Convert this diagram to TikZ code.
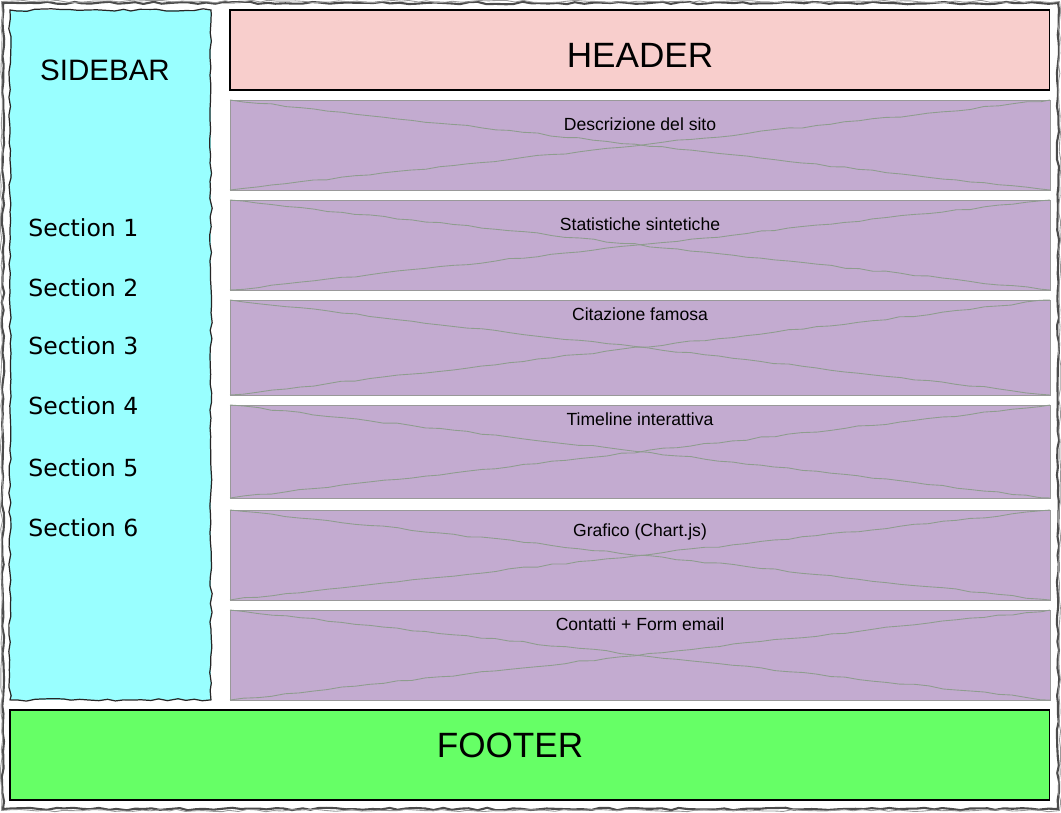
\documentclass[tikz,border=0pt]{standalone}
\usepackage{fontspec}
\setmainfont{Liberation Sans}
\newfontfamily\sectfont{DejaVu Sans}
\usetikzlibrary{positioning,decorations.pathmorphing}

\definecolor{sidefill}{HTML}{99FFFF}
\definecolor{headfill}{HTML}{F8CECC}
\definecolor{panelfill}{HTML}{C3ABD0}
\definecolor{footfill}{HTML}{66FF66}
\definecolor{crossline}{HTML}{8E9C8E}

\begin{document}
\begin{tikzpicture}[x=0.02cm, y=-0.02cm,
    sketch/.style={decorate, decoration={random steps, segment length=5pt, amplitude=0.7pt}},
    box/.style={anchor=north west, inner sep=0pt, outer sep=0pt},
    panel/.style={box, draw=black!40, fill=panelfill, minimum width=16.4cm},
    paneltext/.style={anchor=base, inner sep=0pt, font=\fontsize{10}{12}\selectfont},
    sectext/.style={anchor=west, inner sep=0pt, font=\sectfont\fontsize{13.4}{16}\selectfont},
    cross/.style={crossline, line width=0.5pt, decorate, decoration={random steps, segment length=8pt, amplitude=0.5pt}}]

    \pgfmathsetseed{7}
    \useasboundingbox (0,0) rectangle (1061,812);

    % outer frame
    \draw[sketch, line width=1.2pt, black!70] (3,3) rectangle (1058,809);
    \draw[sketch, line width=0.5pt, black!40] (1.5,1.5) rectangle (1059.5,810.5);

    % sidebar
    \node[box, fill=sidefill, minimum width=4.02cm, minimum height=13.8cm] (sidebar) at (10,10) {};
    \draw[sketch, line width=0.7pt, black!85] (sidebar.north west) rectangle (sidebar.south east);
    \node[font=\fontsize{16.8}{20}\selectfont] (sidetitle) at (105,70) {SIDEBAR};
    \foreach \s/\y in {1/228, 2/288, 3/346, 4/406, 5/468, 6/528}
        \node[sectext] (sec\s) at (28,\y) {Section \s};

    % header and footer
    \node[box, draw=black, line width=0.7pt, fill=headfill, minimum width=16.4cm, minimum height=1.6cm] (header) at (230,10) {};
    \node[anchor=base, inner sep=0pt, font=\fontsize{20}{24}\selectfont] (headtitle) at (640,67) {HEADER};
    \node[box, draw=black, line width=0.7pt, fill=footfill, minimum width=20.8cm, minimum height=1.8cm] (footer) at (10,710) {};
    \node[font=\fontsize{20}{24}\selectfont] (foottitle) at (510,745) {FOOTER};

    % content panels
    \foreach \i/\top/\ht/\base/\txt in {1/100/90/30/Descrizione del sito,
                                        2/200/90/30/Statistiche sintetiche,
                                        3/300/95/20/Citazione famosa,
                                        4/405/93/20/Timeline interattiva,
                                        5/510/90/26/Grafico (Chart.js),
                                        6/610/90/20/Contatti + Form email} {
        \node[panel, minimum height=\ht*0.02cm] (p\i) at (230,\top) {};
        \draw[cross] (p\i.north west) -- (p\i.south east);
        \draw[cross] (p\i.south west) -- (p\i.north east);
        \node[paneltext] (t\i) at (640,\top+\base) {\txt};
    }
\end{tikzpicture}
\end{document}
